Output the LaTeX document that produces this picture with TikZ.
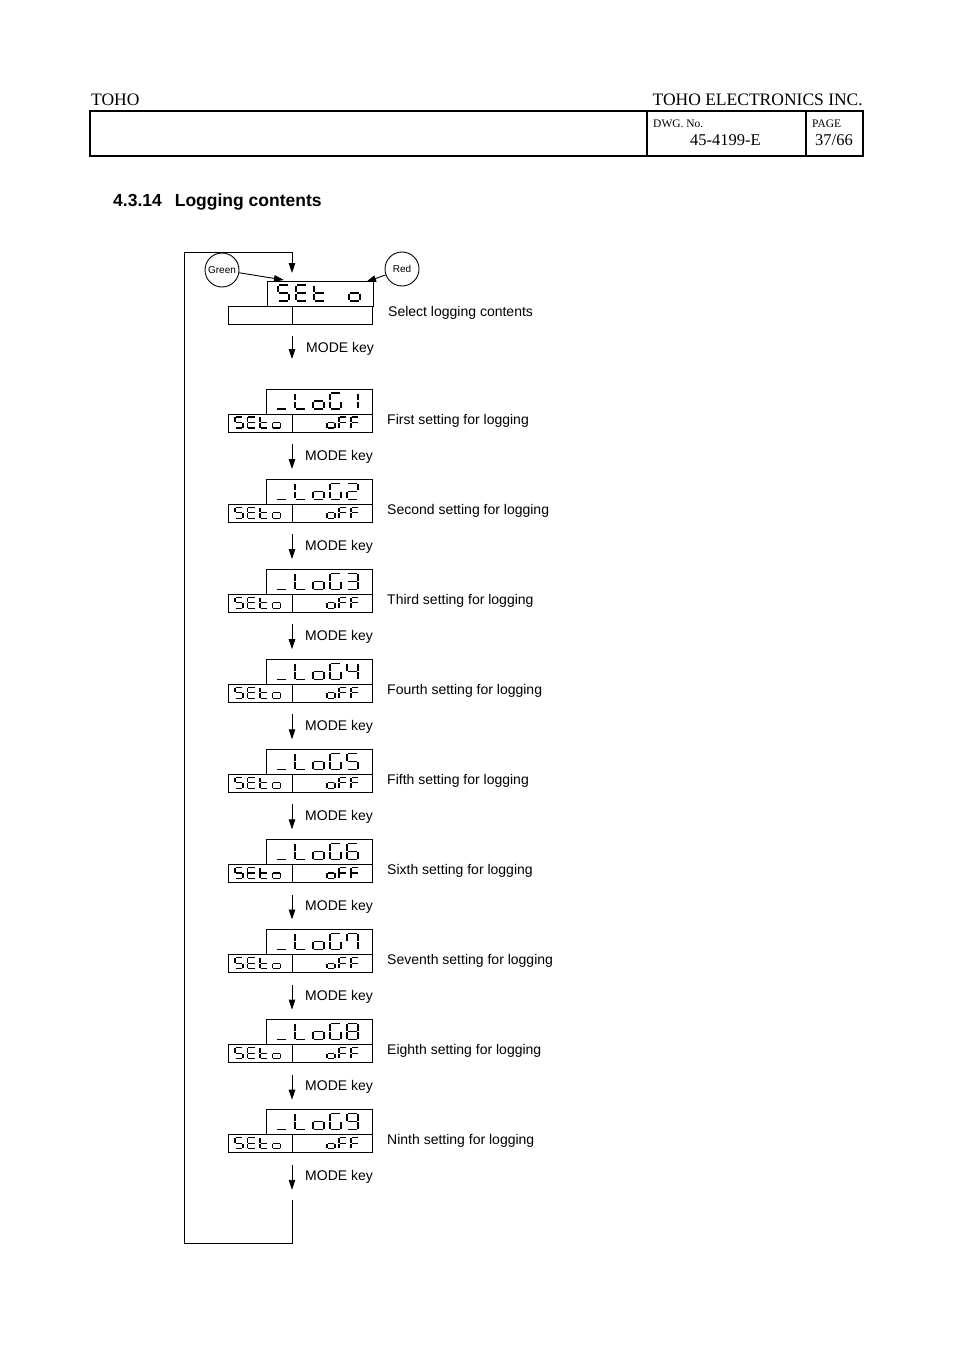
\documentclass[tikz,border=0pt]{standalone}
\usepackage{fontspec}
\setmainfont{Liberation Sans}
\newfontfamily\hdrfont{Liberation Serif}
\usetikzlibrary{arrows.meta}
% seven-segment pieces (local units: width 1, height 2, y downwards)
\newcommand\segma{\draw[segline] (0.08,0) -- (0.92,0);}
\newcommand\segmg{\draw[segline] (0.08,1) -- (0.92,1);}
\newcommand\segmd{\draw[segline] (0.08,2) -- (0.92,2);}
\newcommand\segmf{\draw[segline] (0,0.08) -- (0,0.92);}
\newcommand\segme{\draw[segline] (0,1.08) -- (0,1.92);}
\newcommand\segmb{\draw[segline] (1,0.08) -- (1,0.92);}
\newcommand\segmc{\draw[segline] (1,1.08) -- (1,1.92);}
\def\sgS{a,f,g,c,d}
\def\sgE{a,f,g,e,d}
\def\sgT{f,e,d,g}
\def\sgO{g,c,d,e}
\def\sgF{a,f,g,e}
\def\sgL{f,e,d}
\def\sgU{d}
\def\sgG{a,f,e,d,c}
\newcommand\sevseg[5]{%
  \begin{scope}[shift={(#1,#2)},x=#3pt,y=-#4pt]
    \foreach \s in #5 {\csname segm\s\endcsname}
  \end{scope}}
\newcommand\logrow[4]{%
  \node[ubox, anchor=north west] (u#1) at (266,#2) {};
  \node[lboxl, anchor=north west] (l#1) at (228,#2+25) {};
  \node[lboxr, anchor=north west] (r#1) at (292,#2+25) {};
  \sevseg{276}{#2+4}{11}{8}{\sgU}
  \sevseg{295}{#2+4}{11}{8}{\sgL}
  \sevseg{313}{#2+4}{11}{8}{\sgO}
  \sevseg{330}{#2+4}{11}{8}{\sgG}
  \sevseg{347}{#2+4}{11}{8}{{#3}}
  \sevseg{235}{#2+28}{8}{5.5}{\sgS}
  \sevseg{247.5}{#2+28}{8}{5.5}{\sgE}
  \sevseg{260}{#2+28}{8}{5.5}{\sgT}
  \sevseg{272.5}{#2+28}{8}{5.5}{\sgO}
  \sevseg{327}{#2+28}{8}{5.5}{\sgO}
  \sevseg{339}{#2+28}{8}{5.5}{\sgF}
  \sevseg{351}{#2+28}{8}{5.5}{\sgF}
  \node[lab, anchor=base west] (t#1) at (387,#2+35) {#4};
  \coordinate (ms#1) at (292,#2+55);
  \coordinate (me#1) at (292,#2+80);
  \draw[arr] (ms#1) -- (me#1);
  \node[lab, anchor=base west] (k#1) at (305,#2+71) {MODE key};
}
\begin{document}
\begin{tikzpicture}[x=1pt,y=-1pt,
  boxline/.style={draw=black, line width=0.9pt},
  ubox/.style={boxline, minimum width=106pt, minimum height=25pt, inner sep=0pt, outer sep=0pt},
  lboxl/.style={boxline, minimum width=64pt, minimum height=18pt, inner sep=0pt, outer sep=0pt},
  lboxr/.style={boxline, minimum width=80pt, minimum height=18pt, inner sep=0pt, outer sep=0pt},
  segline/.style={line width=1.1pt},
  plain/.style={line width=0.9pt},
  arr/.style={line width=0.9pt, -{Triangle[length=10pt,width=6.5pt]}},
  lab/.style={font=\fontsize{14}{16}\selectfont, inner sep=0pt},
  hdr/.style={inner sep=0pt, font=\hdrfont\fontsize{#1}{#1}\selectfont},
  lamp/.style={circle, draw, line width=0.9pt, minimum size=34pt, inner sep=0pt, font=\fontsize{10}{12}\selectfont}
]
\useasboundingbox (0,0) rectangle (954,1351);
\fill[white] (0,0) rectangle (954,1351);

% header
\draw[line width=2.6pt] (90,111) rectangle (863,156);
\draw[line width=1.8pt] (647,111) -- (647,156);
\draw[line width=1.8pt] (806,111) -- (806,156);
\node[hdr=17.5, anchor=base west] (toho) at (91,106) {TOHO};
\node[hdr=17.5, anchor=base east] (tohoinc) at (863,106) {TOHO ELECTRONICS INC.};
\node[hdr=11.5, anchor=base west] (dwg) at (653,128) {DWG. No.};
\node[hdr=16.5, anchor=base west] (dwgno) at (690,145.5) {45-4199-E};
\node[hdr=11.5, anchor=base west] (page) at (812,128) {PAGE};
\node[hdr=16.5, anchor=base west] (pageno) at (815,145.5) {37/66};

% title
\node[anchor=base west, inner sep=0pt, font=\bfseries\fontsize{17.5}{20}\selectfont] (title) at (113,207) {4.3.14\hspace{13pt}Logging contents};

% first display
\node[ubox, anchor=north west] (u0) at (267,281) {};
\node[lboxl, anchor=north west] (l0) at (228,306) {};
\node[lboxr, anchor=north west] (r0) at (292,306) {};
\sevseg{278}{285}{11}{8}{\sgS}
\sevseg{296}{285}{11}{8}{\sgE}
\sevseg{314}{285}{11}{8}{\sgT}
\sevseg{349}{285}{11}{8}{\sgO}
\node[lab, anchor=base west] (t0) at (388,316) {Select logging contents};
\coordinate (msA) at (292,336);
\coordinate (meA) at (292,359);
\draw[arr] (msA) -- (meA);
\node[lab, anchor=base west] (kA) at (306,352) {MODE key};

% lamps
\node[lamp] (green) at (222,270) {Green};
\node[lamp] (red) at (402,269) {Red};
\coordinate (gtip) at (284,280);
\coordinate (rtip) at (366,282);
\draw[arr] (green) -- (gtip);
\draw[arr] (red) -- (rtip);

% loop line
\coordinate (loopS) at (292,1200);
\coordinate (loopB) at (292,1243);
\coordinate (loopBL) at (184,1243);
\coordinate (loopTL) at (184,252);
\coordinate (loopT) at (292,252);
\coordinate (loopE) at (292,273);
\draw[arr] (loopS) -- (loopB) -- (loopBL) -- (loopTL) -- (loopT) -- (loopE);

% logging rows
\logrow{1}{389}{b,c}{First setting for logging}
\logrow{2}{479.1}{a,b,g,e,d}{Second setting for logging}
\logrow{3}{569.2}{a,b,g,c,d}{Third setting for logging}
\logrow{4}{659.3}{f,g,b,c}{Fourth setting for logging}
\logrow{5}{749.4}{a,f,g,c,d}{Fifth setting for logging}
\logrow{6}{839.5}{a,f,g,e,d,c}{Sixth setting for logging}
\logrow{7}{929.6}{a,f,b,c}{Seventh setting for logging}
\logrow{8}{1019.7}{a,b,c,d,e,f,g}{Eighth setting for logging}
\logrow{9}{1109.8}{a,b,c,d,f,g}{Ninth setting for logging}
\end{tikzpicture}
\end{document}
